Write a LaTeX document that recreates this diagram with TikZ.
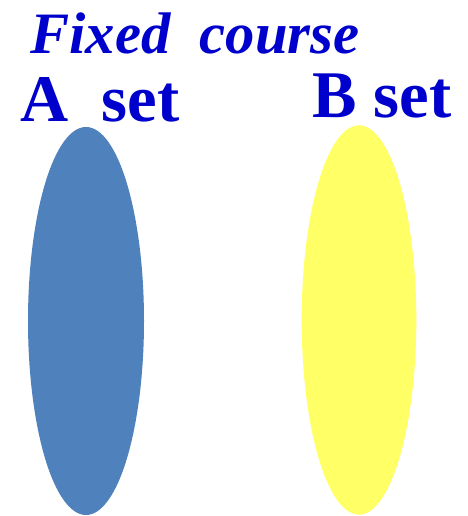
\documentclass[tikz,border=0pt]{standalone}
\usepackage{fontspec}
\setmainfont{Liberation Serif}
\usepackage{xcolor}
\definecolor{setblue}{RGB}{79,129,189}
\definecolor{setyellow}{RGB}{255,255,102}
\definecolor{labelblue}{RGB}{0,0,204}
\usepackage{tikz}
\usetikzlibrary{shapes.geometric}

\begin{document}
\begin{tikzpicture}[x=0.75pt, y=0.75pt, every node/.style={text=labelblue, inner sep=0pt}]
  \useasboundingbox (0,0) rectangle (467,516);
  \node[ellipse, fill=setblue, minimum width=87pt, minimum height=291pt] (seta) at (86,195) {};
  \node[ellipse, fill=setyellow, minimum width=86pt, minimum height=292pt] (setb) at (359,196) {};
  \node[font=\fontsize{44}{46}\selectfont\bfseries\itshape] (title) at (195,482) {Fixed\ \ course};
  \node[font=\fontsize{50}{52}\selectfont\bfseries] (labela) at (100,416) {A\ \ set};
  \node[font=\fontsize{50}{52}\selectfont\bfseries] (labelb) at (382,420) {B set};
\end{tikzpicture}
\end{document}
